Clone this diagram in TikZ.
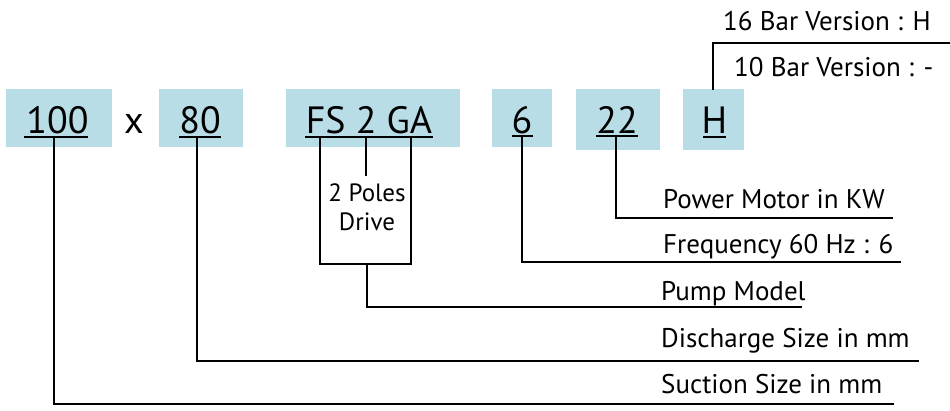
\documentclass[tikz,border=0pt]{standalone}
\usepackage{fontspec}
\setmainfont{PT Sans}
\definecolor{boxblue}{HTML}{B8DDE6}
\begin{document}
\begin{tikzpicture}[x=1pt,y=-1pt,
  codebox/.style={fill=boxblue,draw=none,inner sep=0pt},
  bigtxt/.style={font=\fontsize{38}{42}\selectfont,inner sep=0pt,anchor=base},
  lbl/.style={font=\fontsize{27}{30}\selectfont,inner sep=0pt,anchor=base west},
  ln/.style={line width=2.6pt,line cap=rect},
  ul/.style={line width=2.6pt}]
\useasboundingbox (0,0) rectangle (950,410);
% boxes
\node[codebox,minimum width=106pt,minimum height=58pt] (b100) at (59,118) {};
\node[codebox,minimum width=84pt,minimum height=58pt] (b80) at (201,118) {};
\node[codebox,minimum width=174pt,minimum height=58pt] (bfs) at (373,118) {};
\node[codebox,minimum width=60pt,minimum height=58pt] (b6) at (522,118) {};
\node[codebox,minimum width=84pt,minimum height=61pt] (b22) at (618,119.5) {};
\node[codebox,minimum width=61pt,minimum height=61pt] (bh) at (713.5,119.5) {};
% big texts
\node[bigtxt] (t100) at (57.5,133) {100};
\node[bigtxt] (tx) at (134,133) {x};
\node[bigtxt] (t80) at (200,133) {80};
\node[bigtxt] (tfs) at (369,133) {FS 2 GA};
\node[bigtxt] (t6) at (522,133) {6};
\node[bigtxt] (t22) at (617,133) {22};
\node[bigtxt] (th) at (714.5,133) {H};
% underlines
\coordinate (u100a) at (24,137); \coordinate (u100b) at (88,137);
\coordinate (u80a) at (179,137); \coordinate (u80b) at (221,137);
\coordinate (ufsa) at (305,137); \coordinate (ufsb) at (433,137);
\coordinate (u6a) at (512,136); \coordinate (u6b) at (533,136);
\coordinate (u22a) at (596,136); \coordinate (u22b) at (638,136);
\coordinate (uha) at (703,137); \coordinate (uhb) at (726,137);
\foreach \a/\b in {u100a/u100b,u80a/u80b,ufsa/ufsb,u6a/u6b,u22a/u22b,uha/uhb}
  \draw[ul] (\a) -- (\b);
% labels
\node[lbl] (l16) at (723,30) {16 Bar Version : H};
\node[lbl] (l10) at (734,76) {10 Bar Version : -};
\node[lbl] (lpow) at (663,208) {Power Motor in KW};
\node[lbl] (lfreq) at (663,253) {Frequency 60 Hz : 6};
\node[lbl] (lpump) at (661,300) {Pump Model};
\node[lbl] (ldis) at (661,347) {Discharge Size in mm};
\node[lbl] (lsuc) at (661,393) {Suction Size in mm};
\node[font=\fontsize{25}{29}\selectfont,align=center,inner sep=0pt] (lpoles) at (367,207) {2 Poles\\Drive};
% connector points
\coordinate (c100) at (54,137);
\coordinate (c80) at (197,137);
\coordinate (cfs1) at (320,137);
\coordinate (cfs2) at (366,137);
\coordinate (cfs3) at (411,137);
\coordinate (c6) at (522,136);
\coordinate (c22) at (616,136);
\coordinate (ch) at (713,89);
\coordinate (endsuc) at (893,404);
\coordinate (enddis) at (918,361);
\coordinate (endpump) at (801,307);
\coordinate (endfreq) at (900,262);
\coordinate (endpow) at (892,218);
\coordinate (endh) at (950,43);
\coordinate (fsbotl) at (320,264);
\coordinate (fsbotr) at (411,264);
\coordinate (fsmid) at (367,264);
\coordinate (polesend) at (366,175);
% connectors
\draw[ln] (c100) |- (endsuc);
\draw[ln] (c80) |- (enddis);
\draw[ln] (cfs1) -- (fsbotl) -- (fsbotr) -- (cfs3);
\draw[ln] (cfs2) -- (polesend);
\draw[ln] (fsmid) |- (endpump);
\draw[ln] (c6) |- (endfreq);
\draw[ln] (c22) |- (endpow);
\draw[ln] (ch) |- (endh);
\end{tikzpicture}
\end{document}
